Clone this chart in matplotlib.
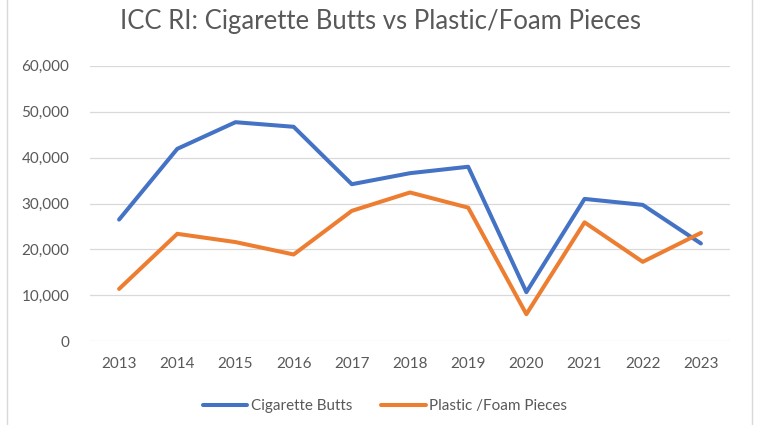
import matplotlib
matplotlib.use("Agg")
import matplotlib.pyplot as plt
from matplotlib.lines import Line2D
from matplotlib.ticker import FuncFormatter

plt.rcParams['font.family'] = ['Lato', 'DejaVu Sans']

years = ['2013', '2014', '2015', '2016', '2017', '2018', '2019', '2020', '2021', '2022', '2023']
cigarette_butts = [26500, 41900, 47700, 46700, 34200, 36600, 38000, 10700, 31000, 29700, 21300]
plastic_foam = [11400, 23400, 21600, 18900, 28400, 32400, 29100, 5900, 25900, 17300, 23600]
y_ticks = [0, 10000, 20000, 30000, 40000, 50000, 60000]

fig = plt.figure(figsize=(7.6, 4.25), dpi=100)
ax = fig.add_axes([90 / 760, 1 - 341.3 / 425, 640 / 760, (341.3 - 65.7) / 425])

x = range(len(years))
ax.plot(x, cigarette_butts, color='#4472C4', lw=2.9, label='Cigarette Butts', solid_capstyle='round')
ax.plot(x, plastic_foam, color='#ED7D31', lw=2.9, label='Plastic /Foam Pieces', solid_capstyle='round')

ax.set_xlim(-0.5, len(years) - 0.5)
ax.set_ylim(0, 60000)
ax.set_yticks(y_ticks)
ax.yaxis.set_major_formatter(FuncFormatter(lambda v, p: f'{int(v):,}'))
ax.set_xticks(list(x))
ax.set_xticklabels(years)
ax.grid(axis='y', color='#D9D9D9', lw=0.9)
ax.set_axisbelow(True)
for s in ax.spines.values():
    s.set_visible(False)
ax.tick_params(length=0, labelsize=11, labelcolor='#595959')
ax.tick_params(axis='y', pad=15)
ax.tick_params(axis='x', pad=11)

fig.text(0.5, 1 - 22 / 425, 'ICC RI: Cigarette Butts vs Plastic/Foam Pieces',
         ha='center', va='center', fontsize=18.5, color='#595959')

fig.legend(loc='center', bbox_to_anchor=(385 / 760, 1 - 406 / 425), ncol=2, frameon=False,
           fontsize=11, labelcolor='#595959', handlelength=2.9, handletextpad=0.25,
           columnspacing=1.9)

for xp in (7.3 / 760, 751.7 / 760):
    fig.add_artist(Line2D([xp, xp], [0, 1], transform=fig.transFigure, color='#D9D9D9', lw=1))

fig.savefig('out.png', dpi=100)
